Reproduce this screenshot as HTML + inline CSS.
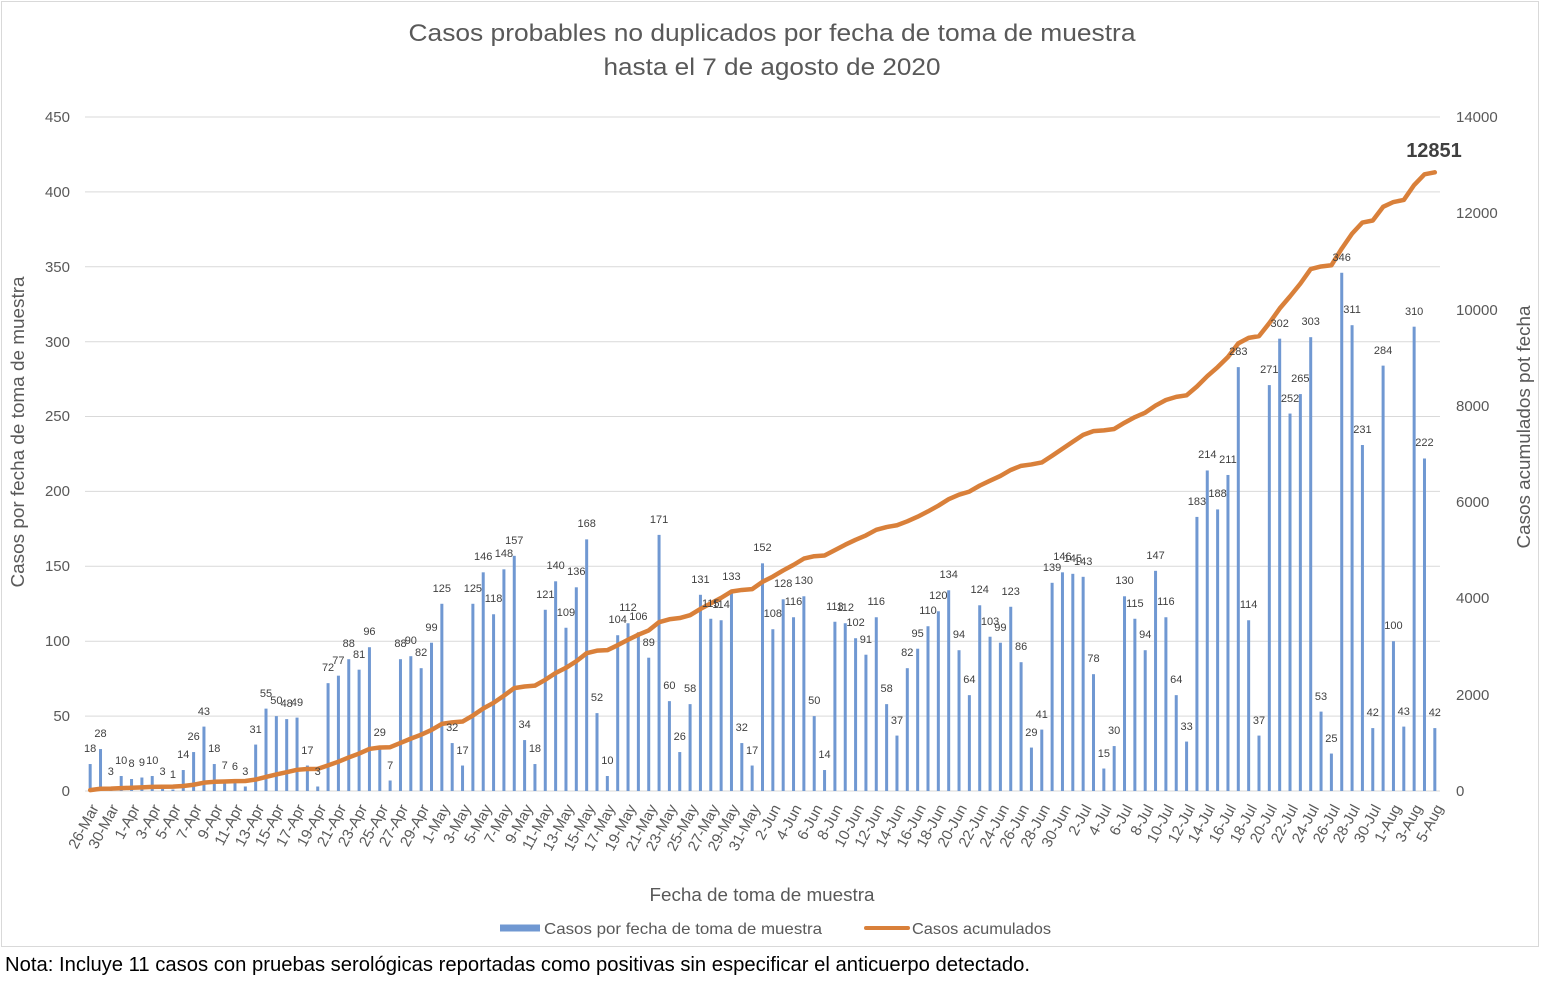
<!DOCTYPE html>
<html><head><meta charset="utf-8"><style>
html,body{margin:0;padding:0;background:#fff}
#c{position:relative;width:1541px;height:981px;overflow:hidden;font-family:"Liberation Sans",sans-serif}
svg{position:absolute;left:0;top:0}
.d{position:absolute;left:calc(79.828px + 10.3435px*var(--i));top:calc(769px - 1.49778px*var(--v));transform:translateX(-50%);font-size:11px;line-height:14px;color:#404040;white-space:nowrap}
.x{position:absolute;right:calc(1541px - 84.828px - 10.3435px*var(--i));top:798px;height:16px;line-height:16px;font-size:15px;color:#595959;transform-origin:100% 50%;transform:rotate(-62deg);white-space:nowrap}
</style></head><body><div id="c">
<svg width="1541" height="981" viewBox="0 0 1541 981" font-family="Liberation Sans, sans-serif">
<rect x="1.5" y="1.5" width="1537" height="945" fill="#fff" stroke="#d9d9d9" stroke-width="1"/>
<text x="772" y="41" text-anchor="middle" font-size="24" fill="#595959" textLength="727" lengthAdjust="spacingAndGlyphs">Casos probables no duplicados por fecha de toma de muestra</text>
<text x="772" y="75" text-anchor="middle" font-size="24" fill="#595959" textLength="337" lengthAdjust="spacingAndGlyphs">hasta el 7 de agosto de 2020</text>
<g stroke="#d9d9d9" stroke-width="1">
<line x1="85" x2="1440" y1="716.1" y2="716.1"/><line x1="85" x2="1440" y1="641.2" y2="641.2"/><line x1="85" x2="1440" y1="566.3" y2="566.3"/><line x1="85" x2="1440" y1="491.4" y2="491.4"/><line x1="85" x2="1440" y1="416.5" y2="416.5"/><line x1="85" x2="1440" y1="341.7" y2="341.7"/><line x1="85" x2="1440" y1="266.8" y2="266.8"/><line x1="85" x2="1440" y1="191.9" y2="191.9"/><line x1="85" x2="1440" y1="117" y2="117"/><line x1="85" x2="1440" y1="791" y2="791"/>
</g>
<g font-size="15" fill="#595959" text-anchor="end">
<text x="70" y="796">0</text><text x="70" y="721">50</text><text x="70" y="646">100</text><text x="70" y="571">150</text><text x="70" y="496">200</text><text x="70" y="421">250</text><text x="70" y="347">300</text><text x="70" y="272">350</text><text x="70" y="197">400</text><text x="70" y="122">450</text>
</g>
<g font-size="15" fill="#595959">
<text x="1456" y="796">0</text><text x="1456" y="700">2000</text><text x="1456" y="603">4000</text><text x="1456" y="507">6000</text><text x="1456" y="411">8000</text><text x="1456" y="315">10000</text><text x="1456" y="218">12000</text><text x="1456" y="122">14000</text>
</g>
<text transform="translate(24,432) rotate(-90)" text-anchor="middle" font-size="18" fill="#595959" textLength="311" lengthAdjust="spacingAndGlyphs">Casos por fecha de toma de muestra</text>
<text transform="translate(1530,427) rotate(-90)" text-anchor="middle" font-size="18" fill="#595959" textLength="243" lengthAdjust="spacingAndGlyphs">Casos acumulados pot fecha</text>
<text x="762" y="901" text-anchor="middle" font-size="18" fill="#595959" textLength="225" lengthAdjust="spacingAndGlyphs">Fecha de toma de muestra</text>
<rect x="500" y="924.5" width="40" height="7" fill="#7098d2"/>
<text x="544" y="934" font-size="16" fill="#595959" textLength="278" lengthAdjust="spacingAndGlyphs">Casos por fecha de toma de muestra</text>
<line x1="866" x2="908" y1="928" y2="928" stroke="#d9803a" stroke-width="4" stroke-linecap="round"/>
<text x="912" y="934" font-size="16" fill="#595959" textLength="139" lengthAdjust="spacingAndGlyphs">Casos acumulados</text>
<text x="5" y="971" font-size="20" fill="#000" textLength="1025" lengthAdjust="spacingAndGlyphs">Nota: Incluye 11 casos con pruebas serológicas reportadas como positivas sin especificar el anticuerpo detectado.</text>
<g transform="translate(85,791) scale(10.3435,-1.49778)" fill="#7098d2">
<rect x="0.355" width="0.29" height="18"/><rect x="1.355" width="0.29" height="28"/><rect x="2.355" width="0.29" height="3"/><rect x="3.355" width="0.29" height="10"/><rect x="4.355" width="0.29" height="8"/><rect x="5.355" width="0.29" height="9"/><rect x="6.355" width="0.29" height="10"/><rect x="7.355" width="0.29" height="3"/><rect x="8.355" width="0.29" height="1"/><rect x="9.355" width="0.29" height="14"/>
<rect x="10.355" width="0.29" height="26"/><rect x="11.355" width="0.29" height="43"/><rect x="12.355" width="0.29" height="18"/><rect x="13.355" width="0.29" height="7"/><rect x="14.355" width="0.29" height="6"/><rect x="15.355" width="0.29" height="3"/><rect x="16.355" width="0.29" height="31"/><rect x="17.355" width="0.29" height="55"/><rect x="18.355" width="0.29" height="50"/><rect x="19.355" width="0.29" height="48"/>
<rect x="20.355" width="0.29" height="49"/><rect x="21.355" width="0.29" height="17"/><rect x="22.355" width="0.29" height="3"/><rect x="23.355" width="0.29" height="72"/><rect x="24.355" width="0.29" height="77"/><rect x="25.355" width="0.29" height="88"/><rect x="26.355" width="0.29" height="81"/><rect x="27.355" width="0.29" height="96"/><rect x="28.355" width="0.29" height="29"/><rect x="29.355" width="0.29" height="7"/>
<rect x="30.355" width="0.29" height="88"/><rect x="31.355" width="0.29" height="90"/><rect x="32.355" width="0.29" height="82"/><rect x="33.355" width="0.29" height="99"/><rect x="34.355" width="0.29" height="125"/><rect x="35.355" width="0.29" height="32"/><rect x="36.355" width="0.29" height="17"/><rect x="37.355" width="0.29" height="125"/><rect x="38.355" width="0.29" height="146"/><rect x="39.355" width="0.29" height="118"/>
<rect x="40.355" width="0.29" height="148"/><rect x="41.355" width="0.29" height="157"/><rect x="42.355" width="0.29" height="34"/><rect x="43.355" width="0.29" height="18"/><rect x="44.355" width="0.29" height="121"/><rect x="45.355" width="0.29" height="140"/><rect x="46.355" width="0.29" height="109"/><rect x="47.355" width="0.29" height="136"/><rect x="48.355" width="0.29" height="168"/><rect x="49.355" width="0.29" height="52"/>
<rect x="50.355" width="0.29" height="10"/><rect x="51.355" width="0.29" height="104"/><rect x="52.355" width="0.29" height="112"/><rect x="53.355" width="0.29" height="106"/><rect x="54.355" width="0.29" height="89"/><rect x="55.355" width="0.29" height="171"/><rect x="56.355" width="0.29" height="60"/><rect x="57.355" width="0.29" height="26"/><rect x="58.355" width="0.29" height="58"/><rect x="59.355" width="0.29" height="131"/>
<rect x="60.355" width="0.29" height="115"/><rect x="61.355" width="0.29" height="114"/><rect x="62.355" width="0.29" height="133"/><rect x="63.355" width="0.29" height="32"/><rect x="64.355" width="0.29" height="17"/><rect x="65.355" width="0.29" height="152"/><rect x="66.355" width="0.29" height="108"/><rect x="67.355" width="0.29" height="128"/><rect x="68.355" width="0.29" height="116"/><rect x="69.355" width="0.29" height="130"/>
<rect x="70.355" width="0.29" height="50"/><rect x="71.355" width="0.29" height="14"/><rect x="72.355" width="0.29" height="113"/><rect x="73.355" width="0.29" height="112"/><rect x="74.355" width="0.29" height="102"/><rect x="75.355" width="0.29" height="91"/><rect x="76.355" width="0.29" height="116"/><rect x="77.355" width="0.29" height="58"/><rect x="78.355" width="0.29" height="37"/><rect x="79.355" width="0.29" height="82"/>
<rect x="80.355" width="0.29" height="95"/><rect x="81.355" width="0.29" height="110"/><rect x="82.355" width="0.29" height="120"/><rect x="83.355" width="0.29" height="134"/><rect x="84.355" width="0.29" height="94"/><rect x="85.355" width="0.29" height="64"/><rect x="86.355" width="0.29" height="124"/><rect x="87.355" width="0.29" height="103"/><rect x="88.355" width="0.29" height="99"/><rect x="89.355" width="0.29" height="123"/>
<rect x="90.355" width="0.29" height="86"/><rect x="91.355" width="0.29" height="29"/><rect x="92.355" width="0.29" height="41"/><rect x="93.355" width="0.29" height="139"/><rect x="94.355" width="0.29" height="146"/><rect x="95.355" width="0.29" height="145"/><rect x="96.355" width="0.29" height="143"/><rect x="97.355" width="0.29" height="78"/><rect x="98.355" width="0.29" height="15"/><rect x="99.355" width="0.29" height="30"/>
<rect x="100.355" width="0.29" height="130"/><rect x="101.355" width="0.29" height="115"/><rect x="102.355" width="0.29" height="94"/><rect x="103.355" width="0.29" height="147"/><rect x="104.355" width="0.29" height="116"/><rect x="105.355" width="0.29" height="64"/><rect x="106.355" width="0.29" height="33"/><rect x="107.355" width="0.29" height="183"/><rect x="108.355" width="0.29" height="214"/><rect x="109.355" width="0.29" height="188"/>
<rect x="110.355" width="0.29" height="211"/><rect x="111.355" width="0.29" height="283"/><rect x="112.355" width="0.29" height="114"/><rect x="113.355" width="0.29" height="37"/><rect x="114.355" width="0.29" height="271"/><rect x="115.355" width="0.29" height="302"/><rect x="116.355" width="0.29" height="252"/><rect x="117.355" width="0.29" height="265"/><rect x="118.355" width="0.29" height="303"/><rect x="119.355" width="0.29" height="53"/>
<rect x="120.355" width="0.29" height="25"/><rect x="121.355" width="0.29" height="346"/><rect x="122.355" width="0.29" height="311"/><rect x="123.355" width="0.29" height="231"/><rect x="124.355" width="0.29" height="42"/><rect x="125.355" width="0.29" height="284"/><rect x="126.355" width="0.29" height="100"/><rect x="127.355" width="0.29" height="43"/><rect x="128.355" width="0.29" height="310"/><rect x="129.355" width="0.29" height="222"/>
<rect x="130.355" width="0.29" height="42"/>
</g>
<g transform="translate(85,791) scale(10.3435,-0.0481429)">
<polyline fill="none" stroke="#d9803a" stroke-width="4.5" stroke-linejoin="round" stroke-linecap="round" vector-effect="non-scaling-stroke" points="0.5,18 1.5,46 2.5,49 3.5,59 4.5,67 5.5,76 6.5,86 7.5,89 8.5,90 9.5,104 10.5,130 11.5,173 12.5,191 13.5,198 14.5,204 15.5,207 16.5,238 17.5,293 18.5,343 19.5,391 20.5,440 21.5,457 22.5,460 23.5,532 24.5,609 25.5,697 26.5,778 27.5,874 28.5,903 29.5,910 30.5,998 31.5,1088 32.5,1170 33.5,1269 34.5,1394 35.5,1426 36.5,1443 37.5,1568 38.5,1714 39.5,1832 40.5,1980 41.5,2137 42.5,2171 43.5,2189 44.5,2310 45.5,2450 46.5,2559 47.5,2695 48.5,2863 49.5,2915 50.5,2925 51.5,3029 52.5,3141 53.5,3247 54.5,3336 55.5,3507 56.5,3567 57.5,3593 58.5,3651 59.5,3782 60.5,3897 61.5,4011 62.5,4144 63.5,4176 64.5,4193 65.5,4345 66.5,4453 67.5,4581 68.5,4697 69.5,4827 70.5,4877 71.5,4891 72.5,5004 73.5,5116 74.5,5218 75.5,5309 76.5,5425 77.5,5483 78.5,5520 79.5,5602 80.5,5697 81.5,5807 82.5,5927 83.5,6061 84.5,6155 85.5,6219 86.5,6343 87.5,6446 88.5,6545 89.5,6668 90.5,6754 91.5,6783 92.5,6824 93.5,6963 94.5,7109 95.5,7254 96.5,7397 97.5,7475 98.5,7490 99.5,7520 100.5,7650 101.5,7765 102.5,7859 103.5,8006 104.5,8122 105.5,8186 106.5,8219 107.5,8402 108.5,8616 109.5,8804 110.5,9015 111.5,9298 112.5,9412 113.5,9449 114.5,9720 115.5,10022 116.5,10274 117.5,10539 118.5,10842 119.5,10895 120.5,10920 121.5,11266 122.5,11577 123.5,11808 124.5,11850 125.5,12134 126.5,12234 127.5,12277 128.5,12587 129.5,12809 130.5,12851"/>
</g>
<text x="1434" y="157" text-anchor="middle" font-size="20" font-weight="bold" fill="#404040">12851</text>
</svg>
<div class="d" style="--i:1;--v:18">18</div><div class="d" style="--i:2;--v:28">28</div><div class="d" style="--i:3;--v:3">3</div><div class="d" style="--i:4;--v:10">10</div><div class="d" style="--i:5;--v:8">8</div><div class="d" style="--i:6;--v:9">9</div><div class="d" style="--i:7;--v:10">10</div><div class="d" style="--i:8;--v:3">3</div><div class="d" style="--i:9;--v:1">1</div><div class="d" style="--i:10;--v:14">14</div>
<div class="d" style="--i:11;--v:26">26</div><div class="d" style="--i:12;--v:43">43</div><div class="d" style="--i:13;--v:18">18</div><div class="d" style="--i:14;--v:7">7</div><div class="d" style="--i:15;--v:6">6</div><div class="d" style="--i:16;--v:3">3</div><div class="d" style="--i:17;--v:31">31</div><div class="d" style="--i:18;--v:55">55</div><div class="d" style="--i:19;--v:50">50</div><div class="d" style="--i:20;--v:48">48</div>
<div class="d" style="--i:21;--v:49">49</div><div class="d" style="--i:22;--v:17">17</div><div class="d" style="--i:23;--v:3">3</div><div class="d" style="--i:24;--v:72">72</div><div class="d" style="--i:25;--v:77">77</div><div class="d" style="--i:26;--v:88">88</div><div class="d" style="--i:27;--v:81">81</div><div class="d" style="--i:28;--v:96">96</div><div class="d" style="--i:29;--v:29">29</div><div class="d" style="--i:30;--v:7">7</div>
<div class="d" style="--i:31;--v:88">88</div><div class="d" style="--i:32;--v:90">90</div><div class="d" style="--i:33;--v:82">82</div><div class="d" style="--i:34;--v:99">99</div><div class="d" style="--i:35;--v:125">125</div><div class="d" style="--i:36;--v:32">32</div><div class="d" style="--i:37;--v:17">17</div><div class="d" style="--i:38;--v:125">125</div><div class="d" style="--i:39;--v:146">146</div><div class="d" style="--i:40;--v:118">118</div>
<div class="d" style="--i:41;--v:148">148</div><div class="d" style="--i:42;--v:157">157</div><div class="d" style="--i:43;--v:34">34</div><div class="d" style="--i:44;--v:18">18</div><div class="d" style="--i:45;--v:121">121</div><div class="d" style="--i:46;--v:140">140</div><div class="d" style="--i:47;--v:109">109</div><div class="d" style="--i:48;--v:136">136</div><div class="d" style="--i:49;--v:168">168</div><div class="d" style="--i:50;--v:52">52</div>
<div class="d" style="--i:51;--v:10">10</div><div class="d" style="--i:52;--v:104">104</div><div class="d" style="--i:53;--v:112">112</div><div class="d" style="--i:54;--v:106">106</div><div class="d" style="--i:55;--v:89">89</div><div class="d" style="--i:56;--v:171">171</div><div class="d" style="--i:57;--v:60">60</div><div class="d" style="--i:58;--v:26">26</div><div class="d" style="--i:59;--v:58">58</div><div class="d" style="--i:60;--v:131">131</div>
<div class="d" style="--i:61;--v:115">115</div><div class="d" style="--i:62;--v:114">114</div><div class="d" style="--i:63;--v:133">133</div><div class="d" style="--i:64;--v:32">32</div><div class="d" style="--i:65;--v:17">17</div><div class="d" style="--i:66;--v:152">152</div><div class="d" style="--i:67;--v:108">108</div><div class="d" style="--i:68;--v:128">128</div><div class="d" style="--i:69;--v:116">116</div><div class="d" style="--i:70;--v:130">130</div>
<div class="d" style="--i:71;--v:50">50</div><div class="d" style="--i:72;--v:14">14</div><div class="d" style="--i:73;--v:113">113</div><div class="d" style="--i:74;--v:112">112</div><div class="d" style="--i:75;--v:102">102</div><div class="d" style="--i:76;--v:91">91</div><div class="d" style="--i:77;--v:116">116</div><div class="d" style="--i:78;--v:58">58</div><div class="d" style="--i:79;--v:37">37</div><div class="d" style="--i:80;--v:82">82</div>
<div class="d" style="--i:81;--v:95">95</div><div class="d" style="--i:82;--v:110">110</div><div class="d" style="--i:83;--v:120">120</div><div class="d" style="--i:84;--v:134">134</div><div class="d" style="--i:85;--v:94">94</div><div class="d" style="--i:86;--v:64">64</div><div class="d" style="--i:87;--v:124">124</div><div class="d" style="--i:88;--v:103">103</div><div class="d" style="--i:89;--v:99">99</div><div class="d" style="--i:90;--v:123">123</div>
<div class="d" style="--i:91;--v:86">86</div><div class="d" style="--i:92;--v:29">29</div><div class="d" style="--i:93;--v:41">41</div><div class="d" style="--i:94;--v:139">139</div><div class="d" style="--i:95;--v:146">146</div><div class="d" style="--i:96;--v:145">145</div><div class="d" style="--i:97;--v:143">143</div><div class="d" style="--i:98;--v:78">78</div><div class="d" style="--i:99;--v:15">15</div><div class="d" style="--i:100;--v:30">30</div>
<div class="d" style="--i:101;--v:130">130</div><div class="d" style="--i:102;--v:115">115</div><div class="d" style="--i:103;--v:94">94</div><div class="d" style="--i:104;--v:147">147</div><div class="d" style="--i:105;--v:116">116</div><div class="d" style="--i:106;--v:64">64</div><div class="d" style="--i:107;--v:33">33</div><div class="d" style="--i:108;--v:183">183</div><div class="d" style="--i:109;--v:214">214</div><div class="d" style="--i:110;--v:188">188</div>
<div class="d" style="--i:111;--v:211">211</div><div class="d" style="--i:112;--v:283">283</div><div class="d" style="--i:113;--v:114">114</div><div class="d" style="--i:114;--v:37">37</div><div class="d" style="--i:115;--v:271">271</div><div class="d" style="--i:116;--v:302">302</div><div class="d" style="--i:117;--v:252">252</div><div class="d" style="--i:118;--v:265">265</div><div class="d" style="--i:119;--v:303">303</div><div class="d" style="--i:120;--v:53">53</div>
<div class="d" style="--i:121;--v:25">25</div><div class="d" style="--i:122;--v:346">346</div><div class="d" style="--i:123;--v:311">311</div><div class="d" style="--i:124;--v:231">231</div><div class="d" style="--i:125;--v:42">42</div><div class="d" style="--i:126;--v:284">284</div><div class="d" style="--i:127;--v:100">100</div><div class="d" style="--i:128;--v:43">43</div><div class="d" style="--i:129;--v:310">310</div><div class="d" style="--i:130;--v:222">222</div>
<div class="d" style="--i:131;--v:42">42</div>
<div class="x" style="--i:1">26-Mar</div><div class="x" style="--i:3">30-Mar</div><div class="x" style="--i:5">1-Apr</div><div class="x" style="--i:7">3-Apr</div><div class="x" style="--i:9">5-Apr</div><div class="x" style="--i:11">7-Apr</div><div class="x" style="--i:13">9-Apr</div><div class="x" style="--i:15">11-Apr</div><div class="x" style="--i:17">13-Apr</div><div class="x" style="--i:19">15-Apr</div><div class="x" style="--i:21">17-Apr</div><div class="x" style="--i:23">19-Apr</div><div class="x" style="--i:25">21-Apr</div><div class="x" style="--i:27">23-Apr</div><div class="x" style="--i:29">25-Apr</div><div class="x" style="--i:31">27-Apr</div><div class="x" style="--i:33">29-Apr</div>
<div class="x" style="--i:35">1-May</div><div class="x" style="--i:37">3-May</div><div class="x" style="--i:39">5-May</div><div class="x" style="--i:41">7-May</div><div class="x" style="--i:43">9-May</div><div class="x" style="--i:45">11-May</div><div class="x" style="--i:47">13-May</div><div class="x" style="--i:49">15-May</div><div class="x" style="--i:51">17-May</div><div class="x" style="--i:53">19-May</div><div class="x" style="--i:55">21-May</div><div class="x" style="--i:57">23-May</div><div class="x" style="--i:59">25-May</div><div class="x" style="--i:61">27-May</div><div class="x" style="--i:63">29-May</div><div class="x" style="--i:65">31-May</div>
<div class="x" style="--i:67">2-Jun</div><div class="x" style="--i:69">4-Jun</div><div class="x" style="--i:71">6-Jun</div><div class="x" style="--i:73">8-Jun</div><div class="x" style="--i:75">10-Jun</div><div class="x" style="--i:77">12-Jun</div><div class="x" style="--i:79">14-Jun</div><div class="x" style="--i:81">16-Jun</div><div class="x" style="--i:83">18-Jun</div><div class="x" style="--i:85">20-Jun</div><div class="x" style="--i:87">22-Jun</div><div class="x" style="--i:89">24-Jun</div><div class="x" style="--i:91">26-Jun</div><div class="x" style="--i:93">28-Jun</div><div class="x" style="--i:95">30-Jun</div>
<div class="x" style="--i:97">2-Jul</div><div class="x" style="--i:99">4-Jul</div><div class="x" style="--i:101">6-Jul</div><div class="x" style="--i:103">8-Jul</div><div class="x" style="--i:105">10-Jul</div><div class="x" style="--i:107">12-Jul</div><div class="x" style="--i:109">14-Jul</div><div class="x" style="--i:111">16-Jul</div><div class="x" style="--i:113">18-Jul</div><div class="x" style="--i:115">20-Jul</div><div class="x" style="--i:117">22-Jul</div><div class="x" style="--i:119">24-Jul</div><div class="x" style="--i:121">26-Jul</div><div class="x" style="--i:123">28-Jul</div><div class="x" style="--i:125">30-Jul</div>
<div class="x" style="--i:127">1-Aug</div><div class="x" style="--i:129">3-Aug</div><div class="x" style="--i:131">5-Aug</div>
</div></body></html>
